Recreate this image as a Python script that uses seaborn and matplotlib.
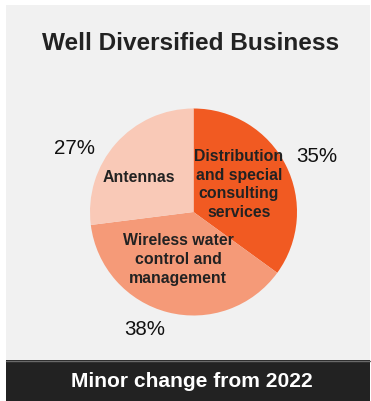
import matplotlib
matplotlib.use("Agg")
import matplotlib.pyplot as plt
from matplotlib.patches import Rectangle
import seaborn as sns

# Revenue mix by segment (share of total, %)
segments = [
    "Distribution\nand special\nconsulting\nservices",
    "Wireless water\ncontrol and\nmanagement",
    "Antennas",
]
shares = [35, 38, 27]
title = "Well Diversified Business"
footer = "Minor change from 2022"

sns.set_theme(style="white")
plt.rcParams["font.family"] = ["Liberation Sans", "DejaVu Sans"]

palette = sns.color_palette(["#F15A22", "#F59A78", "#F9C9B7"])

W, H = 371, 401
fig = plt.figure(figsize=(W / 100, H / 100), dpi=100)
fig.patch.set_facecolor("white")

# light panel and dark footer band (pixel geometry converted to figure fractions)
def px_rect(x0, y0, x1, y1, **kw):
    return Rectangle((x0 / W, 1 - y1 / H), (x1 - x0) / W, (y1 - y0) / H,
                     transform=fig.transFigure, zorder=-5, **kw)

fig.patches.append(px_rect(6, 5, 370, 360, facecolor="#F1F1F1", edgecolor="none"))
fig.patches.append(px_rect(6, 360, 370, 402, facecolor="#222222", edgecolor="none"))
fig.add_artist(plt.Line2D([6 / W, 370 / W], [1 - 360.5 / H, 1 - 360.5 / H],
                          transform=fig.transFigure, color="#6a6a6a", lw=1,
                          zorder=-4))

fig.text(191 / W, 1 - 50.5 / H, title, ha="center", va="baseline",
         fontsize=17.6, fontweight="bold", color="#222222")
fig.text(192 / W, 1 - 387 / H, footer, ha="center", va="baseline",
         fontsize=15.1, fontweight="bold", color="white")

# pie axes: centre (193.5, 212) px, radius 103.5 px
cx, cy, r = 193.5, 212, 103.5
ax = fig.add_axes([(cx - r) / W, (H - cy - r) / H, 2 * r / W, 2 * r / H])
ax.set_facecolor("none")
wedges, _ = ax.pie(shares, colors=palette, startangle=90, counterclock=False,
                   radius=1, wedgeprops=dict(linewidth=0))
ax.set_xlim(-1, 1)
ax.set_ylim(-1, 1)
ax.axis("off")

# label placement in pie units
name_pos = [(0.44, 0.265), (-0.15, -0.46), (-0.527, 0.338)]
pct_pos = [(1.193, 0.541), (-0.469, -1.14), (-1.145, 0.618)]

for name, val, (nx, ny), (px, py) in zip(segments, shares, name_pos, pct_pos):
    ax.text(nx, ny, name, ha="center", va="center", fontsize=11.4,
            fontweight="bold", color="#222222", linespacing=1.32)
    ax.text(px, py, f"{val}%", ha="center", va="center", fontsize=14.8,
            color="#111111")

fig.savefig("out.png", dpi=100, facecolor=fig.get_facecolor())
